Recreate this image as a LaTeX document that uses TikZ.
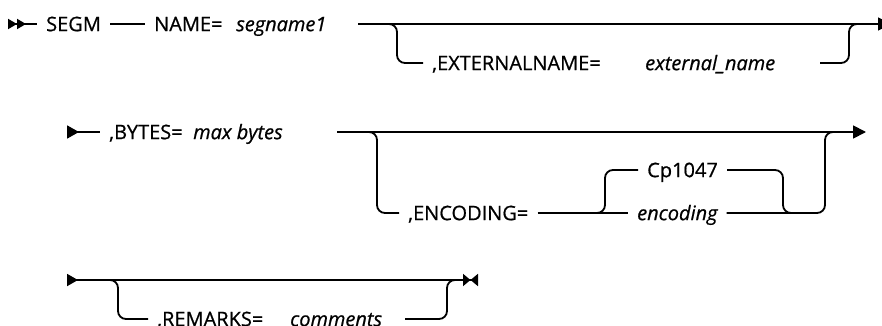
\documentclass[tikz,border=0pt]{standalone}
\usepackage{fontspec}
\setmainfont{Open Sans}[FakeBold=0.7]
\usetikzlibrary{arrows.meta,positioning}

\begin{document}
\begin{tikzpicture}[x=1pt, y=-1pt,
  kw/.style={anchor=west, inner xsep=9pt, inner ysep=0pt, text height=14.3pt, text depth=0pt, font=\fontsize{20}{23}\selectfont},
  var/.style={kw, font=\fontsize{20}{23}\selectfont\itshape},
  rail/.style={line width=1.8pt, rounded corners=8pt},
  dblstart/.style={{Triangle[reversed, length=9pt, width=10pt, sep=0pt] Triangle[reversed, length=9pt, width=10pt, sep=0pt]}-},
  contstart/.style={{Triangle[reversed, length=12pt, width=13pt]}-},
  contend/.style={-{Triangle[length=13pt, width=13pt]}},
  contstop/.style={{Triangle[reversed, length=11pt, width=12pt]}-{Triangle[length=7.5pt, width=12pt, sep=0pt] Triangle[reversed, length=7.5pt, width=12pt, sep=0pt]}}
]
\useasboundingbox (0,0) rectangle (882,326);

% first line
\coordinate (s1) at (8,24);
\node[kw] (segm) at (37,24) {SEGM};
\node[kw] (name) at (145,24) {NAME=};
\node[var] (segn) at (227,24) {segname1};
\coordinate (m1) at (358,24);
\coordinate (e1) at (891,24);
\draw[rail, dblstart] (s1) -- (segm.west);
\draw[rail] (segm.east) -- (name.west);
\draw[rail, contend] (m1) -- (e1);

\coordinate (b1in) at (380,24);
\coordinate (b1down) at (397,63);
\node[kw] (extkw) at (423,63) {,EXTERNALNAME=};
\node[var] (extname) at (636,63) {external\_name};
\coordinate (b1out) at (820,63);
\coordinate (b1up) at (849,24);
\coordinate (b1join) at (866,24);
\draw[rail] (b1in) -| (b1down) -- (extkw.west);
\draw[rail] (b1out) -| (b1up) -- (b1join);

% second line
\coordinate (s2) at (67,132);
\node[kw] (bytes) at (100,132) {,BYTES=};
\node[var] (maxb) at (184,132) {max bytes};
\coordinate (m2) at (337,132);
\coordinate (e2) at (866,132);
\draw[rail, contstart] (s2) -- (bytes.west);
\draw[rail, contend] (m2) -- (e2);

\coordinate (b2in) at (362,132);
\coordinate (b2down) at (377,213);
\node[kw] (enckw) at (399,213) {,ENCODING=};
\node[var] (encv) at (628,213) {encoding};
\draw[rail] (b2in) -| (b2down) -- (enckw.west);
\draw[rail] (enckw.east) -- (encv.west);

\coordinate (i2in) at (590,213);
\coordinate (i2up) at (605,170);
\node[kw] (cp) at (638,170) {Cp1047};
\coordinate (i2down) at (783,213);
\coordinate (i2join) at (797,213);
\draw[rail] (i2in) -| (i2up) -- (cp.west);
\draw[rail] (cp.east) -| (i2down) -- (i2join);

\coordinate (o2up) at (825,132);
\coordinate (o2join) at (840,132);
\draw[rail] (encv.east) -| (o2up) -- (o2join);

% third line
\coordinate (s3) at (67,280);
\coordinate (e3) at (478,280);
\draw[rail, contstop] (s3) -- (e3);

\coordinate (b3in) at (100,280);
\coordinate (b3down) at (118,319);
\node[kw] (rem) at (148,319) {,REMARKS=};
\node[var] (comm) at (281,319) {comments};
\coordinate (b3out) at (405,319);
\coordinate (b3up) at (447,280);
\coordinate (b3join) at (460,280);
\draw[rail] (b3in) -| (b3down) -- (rem.west);
\draw[rail] (b3out) -| (b3up) -- (b3join);

\end{tikzpicture}
\end{document}
